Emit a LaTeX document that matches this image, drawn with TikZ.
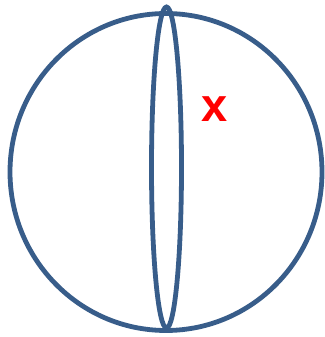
\documentclass[tikz,border=0pt]{standalone}
\usepackage{fontspec}
\setmainfont{Liberation Sans}
\definecolor{outline}{RGB}{56,93,138}
\begin{document}
\begin{tikzpicture}[x=1pt, y=1pt, every node/.style={font=\small}]
\useasboundingbox (0,0) rectangle (324,337);
\draw[outline, line width=4.8pt] (166,165) ellipse [x radius=156, y radius=158.5];
\draw[outline, line width=4.8pt] (166.5,169.5) ellipse [x radius=15, y radius=160.5];
\node[text=red, font=\fontsize{47}{47}\selectfont\bfseries, inner sep=0pt] (mark) at (215,337-109) {x};
\end{tikzpicture}
\end{document}
